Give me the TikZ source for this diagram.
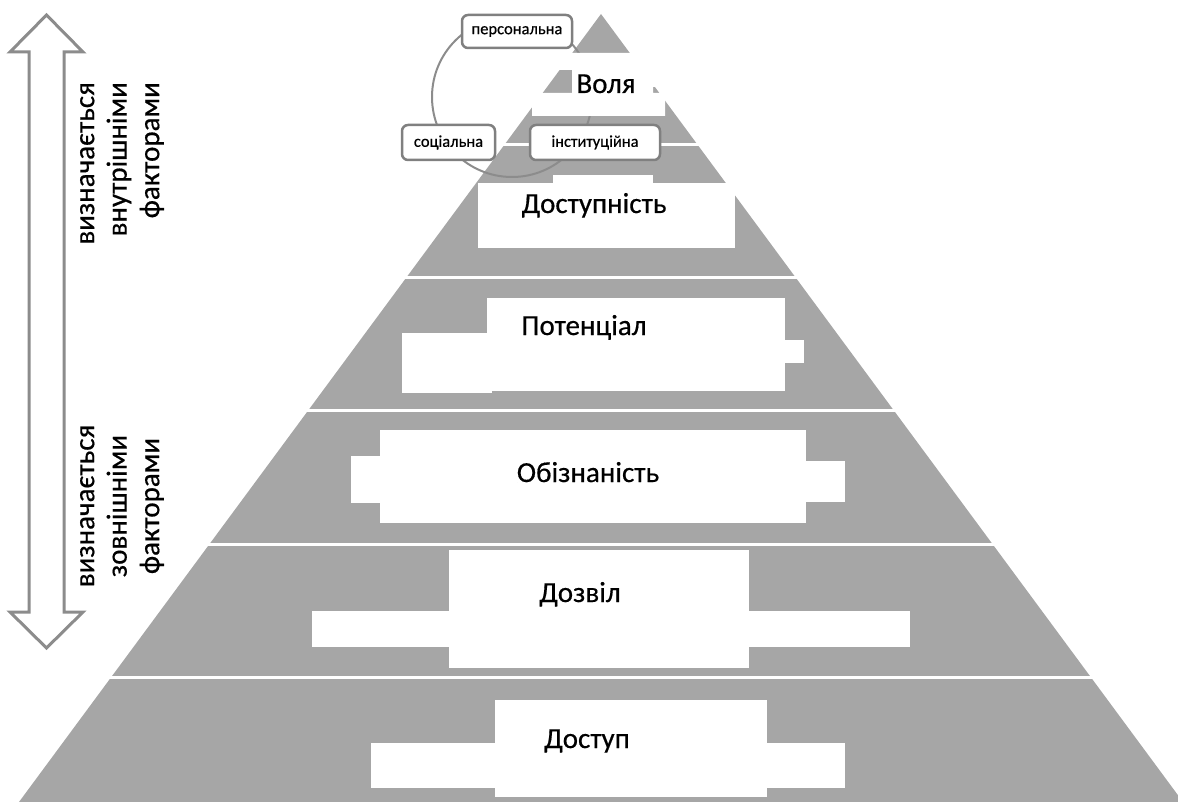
\documentclass[tikz,border=0pt]{standalone}
\usepackage{fontspec}
\setmainfont{Carlito}
\newfontfamily\lblfont{Carlito}[FakeBold=0.5]
\definecolor{pyrgray}{HTML}{A6A6A6}
\definecolor{linegray}{HTML}{808080}
\definecolor{arrowgray}{HTML}{8C8C8C}
\begin{document}
\begin{tikzpicture}[x=1pt,y=-1pt,
  lbl/.style={font=\lblfont\fontsize{29}{33}\selectfont, inner sep=0, anchor=base},
  vtext/.style={font=\lblfont\fontsize{29}{32.5}\selectfont, inner sep=0, rotate=90},
  tag/.style={draw=linegray, line width=2.5pt, fill=white, rounded corners=6pt,
              font=\lblfont\fontsize{16.5}{18}\selectfont, inner sep=0},
  whitebox/.style={fill=white, draw=none},
  sepline/.style={white, line width=3pt},
  ring/.style={draw=arrowgray, line width=2pt}]
\useasboundingbox (0,0) rectangle (1178,802);
% pyramid
\fill[pyrgray] (601,14) -- (1183,802) -- (19,802) -- cycle;
% separators
\foreach \yy in {145,278,410,544,677} \draw[sepline] (0,\yy) -- (1178,\yy);
% circle
\draw[ring] (512,97) circle[radius=80];
% white boxes
\fill[whitebox] (537,53) -- (670,53) -- (670,87) -- (653,87) -- (653,93) -- (665,93)
  -- (665,116) -- (532,116) -- (532,93) -- (572,93) -- (572,70) -- (537,70) -- cycle;
\fill[whitebox] (553,175) rectangle (653,184);
\fill[whitebox] (478,183) rectangle (735,248);
\fill[whitebox] (487,298) rectangle (785,391);
\fill[whitebox] (402,333) rectangle (492,393);
\fill[whitebox] (784,340) rectangle (804,363);
\fill[whitebox] (380,430) rectangle (806,523);
\fill[whitebox] (351,456) rectangle (381,503);
\fill[whitebox] (805,461) rectangle (845,502);
\fill[whitebox] (449,550) rectangle (749,668);
\fill[whitebox] (312,611) rectangle (910,647);
\fill[whitebox] (495,700) rectangle (767,797);
\fill[whitebox] (371,743) rectangle (845,788);
% level labels
\node[lbl] (volia) at (606,93) {Воля};
\node[lbl] (dostupnist) at (594,213) {Доступність};
\node[lbl] (potencial) at (584,335) {Потенціал};
\node[lbl] (obiznanist) at (588,482) {Обізнаність};
\node[lbl] (dozvil) at (580,602) {Дозвіл};
\node[lbl] (dostup) at (587,748) {Доступ};
% tags
\node[tag, minimum width=110pt, minimum height=33pt] (pers) at (517,31.5) {персональна};
\node[tag, minimum width=93pt, minimum height=35pt] (soc) at (448.5,142.5) {соціальна};
\node[tag, minimum width=130pt, minimum height=35pt] (inst) at (595,142.5) {інституційна};
% double arrow
\draw[arrowgray, line width=3pt, fill=white, line join=miter]
  (46.5,15) -- (83,52) -- (64,52) -- (64,612) -- (83,612) -- (46.5,648)
  -- (10,612) -- (29,612) -- (29,52) -- (10,52) -- cycle;
% vertical texts
\node[vtext, anchor=east, align=right] (inner) at (122,82)
  {визначається\\внутрішніми\\факторами};
\node[vtext, anchor=center, align=center] (outer) at (122,506)
  {визначається\\зовнішніми\\факторами};
\end{tikzpicture}
\end{document}
